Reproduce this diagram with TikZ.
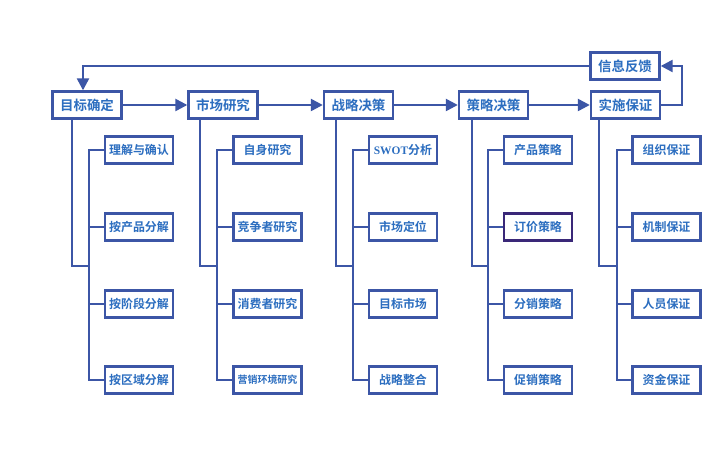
\documentclass[tikz,border=0pt]{standalone}
\usepackage{fontspec}
\setmainfont{Liberation Serif}
\newfontfamily\cjk{Noto Sans CJK SC}[BoldFont={* Bold}]
\newfontfamily\latinserif{Liberation Serif}
\usetikzlibrary{arrows.meta}
\definecolor{lineblue}{HTML}{3C56A6}
\definecolor{txtblue}{HTML}{2C6EC0}
\definecolor{darkpurple}{HTML}{3A2878}
\tikzset{
  topbox/.style={draw=lineblue,line width=2.4bp,fill=white,minimum width=69bp,minimum height=27bp,inner sep=0pt,text=txtblue,font=\cjk\bfseries\fontsize{13.5}{14}\selectfont},
  subbox/.style={draw=lineblue,line width=2.4bp,fill=white,minimum width=68bp,minimum height=27bp,inner sep=0pt,text=txtblue,font=\cjk\bfseries\fontsize{12}{13}\selectfont},
  conn/.style={draw=lineblue,line width=2.4bp},
  arr/.style={conn,-{Triangle[length=12bp,width=12bp]}}
}
\begin{document}
\begin{tikzpicture}[x=1bp,y=-1bp]
\useasboundingbox[fill=white] (0,0) rectangle (720,450);
% top row
\node[topbox] (b1) at (87,105) {目标确定};
\node[topbox] (b2) at (223,105) {市场研究};
\node[topbox] (b3) at (358.5,105) {战略决策};
\node[topbox] (b4) at (493.5,105) {策略决策};
\node[topbox] (b5) at (625.5,105) {实施保证};
\node[topbox] (fb) at (625,66) {信息反馈};
% children
\node[subbox] (c11) at (139,150) {理解与确认};
\node[subbox] (c12) at (139,227) {按产品分解};
\node[subbox] (c13) at (139,304) {按阶段分解};
\node[subbox] (c14) at (139,380) {按区域分解};
\node[subbox] (c21) at (267.5,150) {自身研究};
\node[subbox] (c22) at (267.5,227) {竞争者研究};
\node[subbox] (c23) at (267.5,304) {消费者研究};
\node[subbox,font=\cjk\bfseries\fontsize{10}{11}\selectfont] (c24) at (267.5,380) {营销环境研究};
\node[subbox] (c31) at (403,150) {{\latinserif\bfseries\fontsize{11.5}{12}\selectfont SWOT}分析};
\node[subbox] (c32) at (403,227) {市场定位};
\node[subbox] (c33) at (403,304) {目标市场};
\node[subbox] (c34) at (403,380) {战略整合};
\node[subbox] (c41) at (538,150) {产品策略};
\node[subbox,draw=darkpurple] (c42) at (538,227) {订价策略};
\node[subbox] (c43) at (538,304) {分销策略};
\node[subbox] (c44) at (538,380) {促销策略};
\node[subbox] (c51) at (666.5,150) {组织保证};
\node[subbox] (c52) at (666.5,227) {机制保证};
\node[subbox] (c53) at (666.5,304) {人员保证};
\node[subbox] (c54) at (666.5,380) {资金保证};
% top arrows
\draw[arr] (b1) -- (b2);
\draw[arr] (b2) -- (b3);
\draw[arr] (b3) -- (b4);
\draw[arr] (b4) -- (b5);
\coordinate (fr) at (682,105);
\coordinate (fl) at (83,66);
\draw[arr] (b5.east) -- (fr) |- (fb.east);
\draw[arr] (fb.west) -- (fl) -- (fl |- b1.north);
% columns
\foreach \i/\tx/\sx in {1/72/89,2/200/217,3/336/353,4/472/488,5/599/617}{
  \draw[conn] (\tx,0 |- b\i.south) -- (\tx,266) -- (\sx,266);
  \draw[conn] (c\i1.west) -- (\sx,150) -- (\sx,380) -- (c\i4.west);
  \draw[conn] (c\i2.west) -- (\sx,227);
  \draw[conn] (c\i3.west) -- (\sx,304);
}
\end{tikzpicture}
\end{document}
